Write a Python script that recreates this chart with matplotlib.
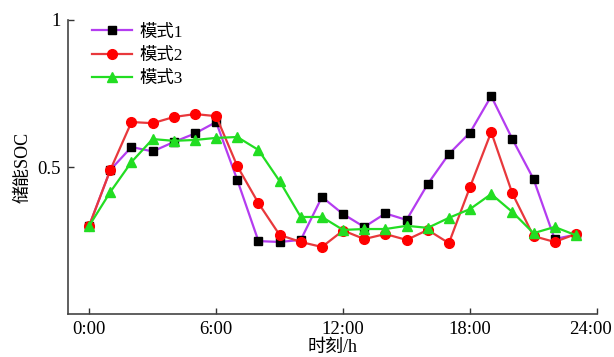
import matplotlib
matplotlib.use('Agg')
import matplotlib.pyplot as plt
import matplotlib.transforms as mtransforms

plt.rcParams['font.family'] = ['Liberation Serif', 'Noto Sans CJK SC']
plt.rcParams['axes.unicode_minus'] = False

# SOC VALUES, ONE PER HOUR
hours = list(range(24))
mode1 = [0.30, 0.49, 0.568, 0.553, 0.585, 0.614, 0.653, 0.456, 0.248, 0.245, 0.252, 0.398,
         0.34, 0.296, 0.342, 0.32, 0.442, 0.544, 0.617, 0.741, 0.595, 0.459, 0.255, 0.27]
mode2 = [0.30, 0.49, 0.653, 0.649, 0.67, 0.68, 0.673, 0.503, 0.377, 0.269, 0.245, 0.228,
         0.284, 0.255, 0.272, 0.252, 0.286, 0.241, 0.432, 0.619, 0.41, 0.265, 0.245, 0.272]
mode3 = [0.30, 0.415, 0.517, 0.595, 0.589, 0.592, 0.599, 0.602, 0.558, 0.452, 0.33, 0.33,
         0.286, 0.289, 0.289, 0.30, 0.293, 0.327, 0.357, 0.408, 0.347, 0.275, 0.296, 0.268]
labels = ['模式1', '模式2', '模式3']
xticks = [0, 6, 12, 18, 24]
xticklabels = ['0:00', '6:00', '12:00', '18:00', '24:00']

fig = plt.figure(figsize=(6.14, 3.57), dpi=100)
ax = fig.add_axes([68/614, 1 - 314/357, 529/614, 294/357])

ax.plot(hours, mode1, color='#b43cf0', lw=1.6, marker='s', ms=6,
        mfc='black', mec='black', label=labels[0])
ax.plot(hours, mode2, color='#e8383c', lw=1.6, marker='o', ms=7,
        mfc='#ff0000', mec='#ff0000', label=labels[1])
ax.plot(hours, mode3, color='#22dd22', lw=1.6, marker='^', ms=7,
        mfc='#22dd22', mec='#22dd22', label=labels[2])

ax.set_xlim(-1, 24)
ax.set_ylim(0, 1)
ax.set_xticks(xticks)
ax.set_xticklabels(xticklabels)
ax.set_yticks([0.5, 1])
ax.set_yticklabels(['0.5', '1'])
ax.tick_params(direction='in', length=4, width=1, colors='#333333', labelsize=13.5,
               labelcolor='black', pad=5)

# NUDGE THE LAST LABEL LEFT SO IT STAYS INSIDE THE PICTURE
last = ax.get_xticklabels()[-1]
last.set_transform(last.get_transform() +
                   mtransforms.ScaledTranslation(-7/100, 0, fig.dpi_scale_trans))

for side in ['top', 'right']:
    ax.spines[side].set_visible(False)
for side in ['left', 'bottom']:
    ax.spines[side].set_color('#444444')
    ax.spines[side].set_linewidth(1.2)

ax.set_xlabel('时刻/h', fontsize=13, labelpad=1)
ax.set_ylabel('储能SOC', fontsize=13, labelpad=4)

ax.legend(loc='upper left', bbox_to_anchor=(0.045, 0.985), frameon=False,
          fontsize=12.5, borderpad=0, borderaxespad=0, handlelength=2.3,
          handletextpad=0.45, labelspacing=0.42)

plt.savefig('out.png', dpi=100)
